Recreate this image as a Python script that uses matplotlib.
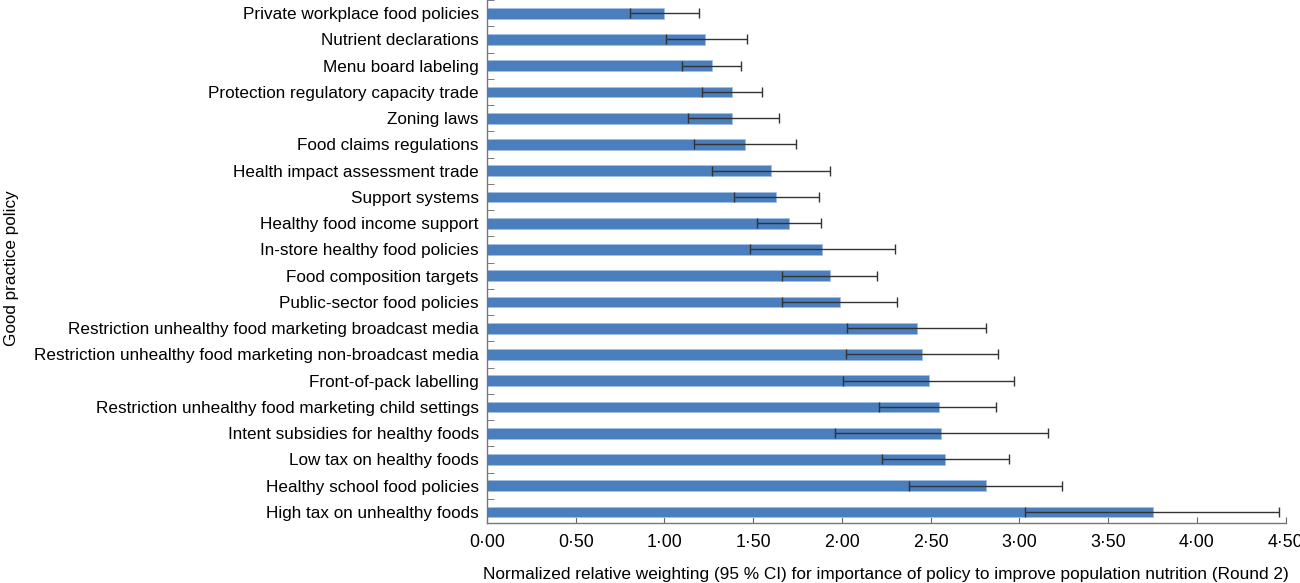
import matplotlib
matplotlib.use("Agg")
import matplotlib.pyplot as plt
from matplotlib.ticker import FixedLocator, FuncFormatter
import numpy as np

plt.rcParams['font.family'] = ['Liberation Sans', 'DejaVu Sans']

policies = [
    "Private workplace food policies",
    "Nutrient declarations",
    "Menu board labeling",
    "Protection regulatory capacity trade",
    "Zoning laws",
    "Food claims regulations",
    "Health impact assessment trade",
    "Support systems",
    "Healthy food income support",
    "In-store healthy food policies",
    "Food composition targets",
    "Public-sector food policies",
    "Restriction unhealthy food marketing broadcast media",
    "Restriction unhealthy food marketing non-broadcast media",
    "Front-of-pack labelling",
    "Restriction unhealthy food marketing child settings",
    "Intent subsidies for healthy foods",
    "Low tax on healthy foods",
    "Healthy school food policies",
    "High tax on unhealthy foods",
]
weights = [1.00, 1.23, 1.27, 1.38, 1.38, 1.455, 1.60, 1.63, 1.70, 1.89,
           1.93, 1.99, 2.42, 2.45, 2.49, 2.545, 2.56, 2.58, 2.81, 3.75]
ci_low = [0.805, 1.007, 1.10, 1.21, 1.13, 1.166, 1.266, 1.39, 1.52, 1.48,
          1.66, 1.66, 2.03, 2.02, 2.005, 2.21, 1.96, 2.225, 2.38, 3.03]
ci_high = [1.195, 1.465, 1.43, 1.55, 1.645, 1.74, 1.93, 1.87, 1.88, 2.30,
           2.195, 2.31, 2.81, 2.88, 2.97, 2.87, 3.16, 2.94, 3.24, 4.46]
xticks = [0.0, 0.5, 1.0, 1.5, 2.0, 2.5, 3.0, 3.5, 4.0, 4.5]

FS = 12.3
fig = plt.figure(figsize=(13, 5.83), dpi=100)
ax = fig.add_axes([0.3746, 0.1029, 0.989 - 0.3746, 1.0 - 0.1029])

y = np.arange(len(policies))
w = np.array(weights)
xerr = np.vstack([w - np.array(ci_low), np.array(ci_high) - w])
ax.barh(y, w, height=0.41, color='#4b7ebc', edgecolor='#a3c0e6', linewidth=0.6, zorder=2)
ax.errorbar(w, y, xerr=xerr, fmt='none', ecolor='#333333', elinewidth=1.0,
            capsize=3.5, capthick=1.0, zorder=3)

ax.set_xlim(0, 4.5)
ax.set_ylim(19.42, -0.5)
ax.set_yticks(y)
ax.set_yticklabels(policies, fontsize=FS)
ax.tick_params(axis='y', which='major', length=0, pad=6)
ax.yaxis.set_minor_locator(FixedLocator(np.arange(-0.5, 19.0, 1.0)))
ax.tick_params(axis='y', which='minor', direction='in', length=5, color='#666666')

ax.set_xticks(xticks)
ax.xaxis.set_major_formatter(FuncFormatter(lambda v, p: f"{v:.2f}".replace('.', '\u00b7')))
ax.tick_params(axis='x', direction='in', length=4, color='#666666', labelsize=12.8, pad=8)

for s in ['top', 'right']:
    ax.spines[s].set_visible(False)
for s in ['left', 'bottom']:
    ax.spines[s].set_color('#777777')
    ax.spines[s].set_linewidth(1.0)

ax.set_xlabel("Normalized relative weighting (95 % CI) for importance of policy to improve population nutrition (Round 2)",
              fontsize=12.45, labelpad=11.5)
fig.text(0.009, 0.54, "Good practice policy", rotation=90, fontsize=FS, ha='center', va='center')

fig.savefig("out.png", dpi=100)
